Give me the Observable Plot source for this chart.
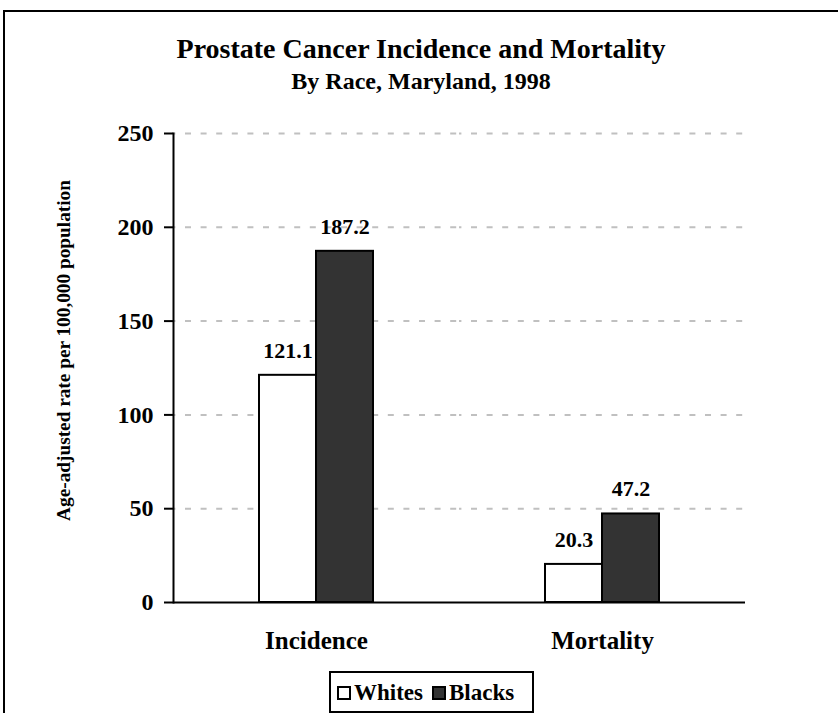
<!DOCTYPE html>
<html>
<head>
<meta charset="utf-8">
<script src="https://cdn.jsdelivr.net/npm/d3@7"></script>
<script src="https://cdn.jsdelivr.net/npm/@observablehq/plot@0.6"></script>
<style>
  html, body { margin: 0; padding: 0; background: #fff; }
  #chart {
    position: relative; width: 838px; height: 713px; overflow: hidden;
    font-family: "Liberation Serif", "Times New Roman", serif; font-weight: bold; color: #000;
  }
  #border {
    position: absolute; left: 3px; top: 10px; width: 900px; height: 800px;
    border-top: 2px solid #000; border-left: 2px solid #000;
  }
  .title { position: absolute; left: 4px; width: 834px; text-align: center; white-space: nowrap; }
  #t1 { top: 34.5px; font-size: 28px; line-height: 28px; }
  #t2 { top: 69px; font-size: 24px; line-height: 24px; }
  #plot { position: absolute; left: 0; top: 100px; }
  #legend {
    position: absolute; left: 329px; top: 671px; width: 205px; height: 42px;
    box-sizing: border-box; border: 2px solid #000; background: #fff;
    display: flex; align-items: center; padding: 2px 0 0 6px; font-size: 23px;
  }
  .item { display: flex; align-items: center; margin-right: 9px; }
  .sw { width: 14px; height: 14px; box-sizing: border-box; border: 2px solid #000; margin-right: 3px; }
</style>
</head>
<body>
<div id="chart">
  <div id="border"></div>
  <div class="title" id="t1">Prostate Cancer Incidence and Mortality</div>
  <div class="title" id="t2">By Race, Maryland, 1998</div>
  <div id="plot"></div>
  <div id="legend"></div>
</div>
<script>
// Age-adjusted prostate cancer rates per 100,000, Maryland 1998
const categories = ["Incidence", "Mortality"];
const races = ["Whites", "Blacks"];
const whites = [121.1, 20.3];
const blacks = [187.2, 47.2];
const yTicks = [0, 50, 100, 150, 200, 250];
const raceColors = ["#ffffff", "#333333"];
const yLabel = "Age-adjusted rate per 100,000 population";

const rows = categories.flatMap((c, i) => [
  {category: c, race: races[0], value: whites[i]},
  {category: c, race: races[1], value: blacks[i]}
]);

const serif = "'Liberation Serif', 'Times New Roman', serif";
const fmt = d3.format(".1f");

const chart = Plot.plot({
  width: 838,
  height: 565,
  marginTop: 33,
  marginBottom: 63,
  marginLeft: 173,
  marginRight: 93,
  style: {fontFamily: serif, fontWeight: "bold", fontSize: "24px", color: "#000", background: "transparent", overflow: "visible"},
  fx: {domain: categories, padding: 0, label: null},
  x: {domain: races, paddingInner: 0, paddingOuter: 1.5, axis: null},
  y: {domain: [0, 250], label: null},
  color: {domain: races, range: raceColors},
  marks: [
    Plot.gridY(yTicks.slice(1), {stroke: "#c0c0c0", strokeOpacity: 1, strokeWidth: 2, strokeDasharray: "6,9.6", strokeDashoffset: 3.6}),
    Plot.barY(rows, {fx: "category", x: "race", y: "value", fill: "race", stroke: "#000", strokeWidth: 2, inset: 0}),
    Plot.text(rows, {fx: "category", x: "race", y: "value", text: d => fmt(d.value), lineAnchor: "bottom", dy: -17.5, fontSize: 22, fontWeight: "bold"}),
    Plot.ruleY([0], {stroke: "#000", strokeWidth: 2}),
    Plot.frame({anchor: "left", facetAnchor: "left", stroke: "#000", strokeWidth: 2}),
    Plot.axisY({ticks: yTicks, tickSize: 9, tickPadding: 11, strokeWidth: 2, fontSize: 24, label: null, tickFormat: d => String(d)}),
    Plot.axisFx({anchor: "bottom", tickSize: 0, tickPadding: 29, fontSize: 25, label: null}),
    Plot.text([yLabel], {frameAnchor: "left", facetAnchor: "left", textAnchor: "middle", rotate: -90, dx: -110, dy: -17.5, fontSize: 19.3, fontWeight: "bold"})
  ]
});
document.getElementById("plot").appendChild(chart);

// Legend built from the same series names and colours
const legend = document.getElementById("legend");
races.forEach((r, i) => {
  const item = document.createElement("div");
  item.className = "item";
  const sw = document.createElement("div");
  sw.className = "sw";
  sw.style.background = raceColors[i];
  const label = document.createElement("span");
  label.textContent = r;
  item.appendChild(sw);
  item.appendChild(label);
  legend.appendChild(item);
});
</script>
</body>
</html>
